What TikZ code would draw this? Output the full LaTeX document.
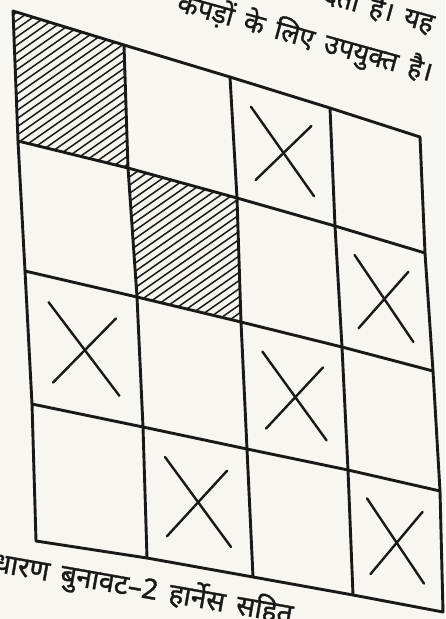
\documentclass[tikz,border=0pt]{standalone}
\usepackage{fontspec}
\newfontfamily\deva[Script=Devanagari,FakeBold=1.2]{Noto Sans}
\newfontfamily\devacap[Script=Devanagari,FakeBold=1.2,WordSpace=1.6]{Noto Sans}
\usetikzlibrary{calc}
\definecolor{paper}{RGB}{248,246,241}
\definecolor{ink}{RGB}{25,25,25}
\begin{document}
\begin{tikzpicture}[x=1pt,y=-1pt,
  gridline/.style={draw=ink,line width=2.9pt,line join=round,line cap=round},
  crossline/.style={draw=ink,line width=2.4pt,line cap=round},
  hatchline/.style={draw=ink,line width=1.5pt},
  txt/.style={font=\deva\fontsize{27}{32}\selectfont,text=ink,inner sep=0pt},
  captxt/.style={font=\devacap\fontsize{28}{33}\selectfont,text=ink,inner sep=0pt}]
\useasboundingbox (0,0) rectangle (445,619);
\fill[paper] (0,0) rectangle (445,619);
\clip (0,0) rectangle (445,619);
% grid intersections p-row-col
\coordinate (p-0-0) at (13,11);
\coordinate (p-0-1) at (124,45);
\coordinate (p-0-2) at (230,77);
\coordinate (p-0-3) at (330,108);
\coordinate (p-0-4) at (420,137);
\coordinate (p-1-0) at (18,141);
\coordinate (p-1-1) at (128,168);
\coordinate (p-1-2) at (237,198);
\coordinate (p-1-3) at (335,226);
\coordinate (p-1-4) at (425,253);
\coordinate (p-2-0) at (25,271);
\coordinate (p-2-1) at (137,297);
\coordinate (p-2-2) at (241,322);
\coordinate (p-2-3) at (342,347);
\coordinate (p-2-4) at (433,371);
\coordinate (p-3-0) at (32,404);
\coordinate (p-3-1) at (143,427);
\coordinate (p-3-2) at (247,449);
\coordinate (p-3-3) at (348,470);
\coordinate (p-3-4) at (440,491);
\coordinate (p-4-0) at (36,541);
\coordinate (p-4-1) at (147,558);
\coordinate (p-4-2) at (253,577);
\coordinate (p-4-3) at (353,595);
\coordinate (p-4-4) at (443,612);
% hatched cells
\foreach \r/\c/\rr/\cc in {0/0/1/1,1/1/2/2}{
  \begin{scope}
    \clip (p-\r-\c) -- (p-\r-\cc) -- (p-\rr-\cc) -- (p-\rr-\c) -- cycle;
    \coordinate (hc) at ($(p-\r-\c)!0.5!(p-\rr-\cc)$);
    \foreach \k in {-24,...,24}
      \draw[hatchline] ($(hc)+(-160,112+\k*8.2)$) -- ++(320,-224);
  \end{scope}
}
% crossed cells
\foreach \r/\c/\rr/\cc in {0/2/1/3,1/3/2/4,2/0/3/1,2/2/3/3,3/1/4/2,3/3/4/4}{
  \draw[crossline] ($(p-\r-\c)!0.2!(p-\rr-\cc)$) -- ($(p-\r-\c)!0.8!(p-\rr-\cc)$);
  \draw[crossline] ($(p-\r-\cc)!0.2!(p-\rr-\c)$) -- ($(p-\r-\cc)!0.8!(p-\rr-\c)$);
}
% grid lines
\foreach \r in {0,...,4}
  \draw[gridline] (p-\r-0) -- (p-\r-1) -- (p-\r-2) -- (p-\r-3) -- (p-\r-4);
\foreach \c in {0,...,4}
  \draw[gridline] (p-0-\c) -- (p-1-\c) -- (p-2-\c) -- (p-3-\c) -- (p-4-\c);
% texts
\node[txt,rotate=-15.5,anchor=east] (t1) at (434,23) {देता है। यह};
\node[txt,rotate=-15.5] (t2) at (305,38) {कपड़ों के लिए उपयुक्त है।};
\node[captxt,rotate=-10,anchor=west] (t3) at (-32,558) {साधारण बुनावट–2 हार्नेस सहित};
\end{tikzpicture}
\end{document}
